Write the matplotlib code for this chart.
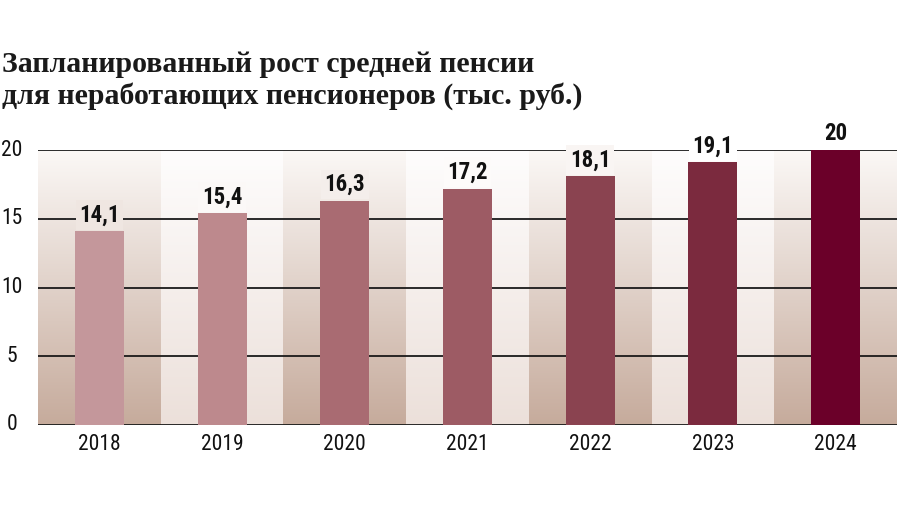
import numpy as np
import matplotlib
matplotlib.use("Agg")
import matplotlib.pyplot as plt

years = ["2018", "2019", "2020", "2021", "2022", "2023", "2024"]
values = [14.1, 15.4, 16.3, 17.2, 18.1, 19.1, 20]
value_labels = ["14,1", "15,4", "16,3", "17,2", "18,1", "19,1", "20"]
bar_colors = ["#c4979b", "#bd898d", "#a96b72", "#9d5b64", "#8a4350", "#7b2a3e", "#6b0029"]
yticks = [0, 5, 10, 15, 20]
title = "Запланированный рост средней пенсии\nдля неработающих пенсионеров (тыс. руб.)"

narrow = ["Liberation Sans Narrow", "Roboto Condensed", "DejaVu Sans"]

# band gradients: bottom colour at 0, top colour at 20
dark_bot = np.array([198, 171, 156]) / 255
dark_top = np.array([251, 248, 246]) / 255
light_bot = np.array([236, 224, 218]) / 255
light_top = np.array([254, 253, 253]) / 255


def band_color(i, y):
    t = min(max(y / 20.0, 0), 1)
    if i % 2 == 0:
        bot, top = dark_bot, dark_top
    else:
        bot, top = light_bot, light_top
    if y > 20:
        return (1, 1, 1)
    return tuple(bot + (top - bot) * t)


fig = plt.figure(figsize=(9, 5.07), dpi=100)
ax = fig.add_axes([38 / 900, 1 - 425 / 507, 1 - 38 / 900 - 3 / 900, 275 / 507])

n = len(years)
for i in range(n):
    ys = np.linspace(0, 20, 200)
    grad = np.array([band_color(i, y) for y in ys])[:, None, :]
    ax.imshow(grad, extent=[i - 0.5, i + 0.5, 0, 20], origin="lower",
              aspect="auto", zorder=0, interpolation="bilinear")

for t in yticks:
    ax.axhline(t, color="#1a1a1a", lw=1.3, zorder=2)

x = np.arange(n)
ax.bar(x, values, width=0.4, color=bar_colors, zorder=3)

for i, (v, lab) in enumerate(zip(values, value_labels)):
    ax.text(i, v + 0.35, lab, ha="center", va="bottom", fontsize=16.5,
            fontweight="bold", family=narrow, color="#111111", zorder=4,
            clip_on=False,
            bbox=dict(boxstyle="square,pad=0.15", fc=band_color(i, v + 1.2), ec="none"))

ax.set_xlim(-0.5, n - 0.5)
ax.set_ylim(0, 20)
ax.axis("off")

for t in yticks:
    fig.text(12 / 900, ax.transData.transform((0, t))[1] / 507, str(t),
             ha="center", va="center", fontsize=15.5, family=narrow, color="#111111")

for i, yr in enumerate(years):
    ax.text(i, -1.45, yr, ha="center", va="center", fontsize=15.5, family=narrow,
            color="#111111", clip_on=False)

fig.text(2 / 900, 1 - 51 / 507, title, ha="left", va="top", fontsize=21.5,
         fontweight="bold", family=["Liberation Serif", "DejaVu Serif"],
         color="#1a1a1a", linespacing=1.2)

fig.savefig("out.png", dpi=100)
